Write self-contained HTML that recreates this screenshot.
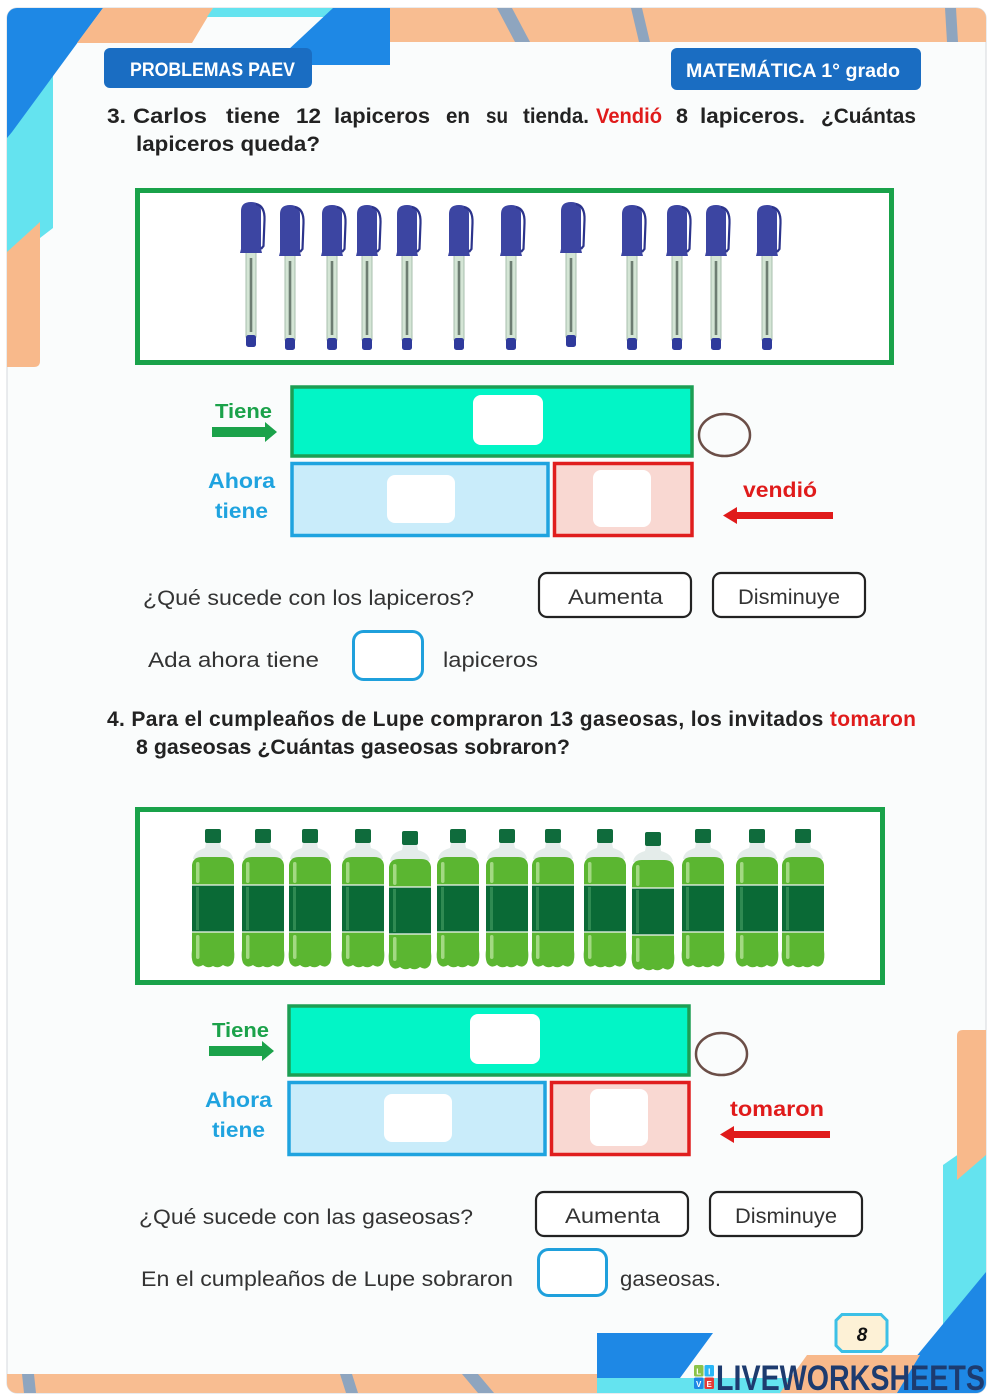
<!DOCTYPE html>
<html><head><meta charset="utf-8"><style>
html,body{margin:0;padding:0;background:#fff;}
svg{display:block;}
text{font-family:"Liberation Sans",Arial,sans-serif;}
.b{font-weight:bold;}
.r{fill:#333;font-size:21px;}
.q{font-weight:bold;font-size:21px;fill:#222;}
</style></head><body>
<svg width="999" height="1400" viewBox="0 0 999 1400" xmlns="http://www.w3.org/2000/svg">
<defs>
<clipPath id="card"><rect x="7" y="8" width="979" height="1385" rx="10"/></clipPath>
<g id="pen">
 <rect x="-5" y="48" width="10" height="87" fill="#d4e5d5" stroke="#a8bfae" stroke-width="1"/>
 <rect x="-1.3" y="56" width="2.6" height="74" fill="#6d7d72"/>
 <path d="M-10 9 Q-10 0 0 0 Q10 0 10 9 L10 47 L11 51 L-11 51 L-10 47 Z" fill="#3c45a2"/>
 <path d="M5 2 Q14 4 13.5 18 L12.5 44 L10 47" stroke="#2c348c" stroke-width="2.2" fill="none"/>
 <rect x="-5" y="133" width="10" height="12" rx="2.5" fill="#2f3a9c"/>
</g>
<g id="bt">
 <rect x="-8" y="0" width="16" height="14" rx="2" fill="#0f6b3c"/>
 <path d="M-7 14 L7 14 L8 19 Q19 22 20 30 L-20 30 Q-19 22 -8 19 Z" fill="#e4ecea"/>
 <path d="M-21 36 Q-20 28 -11 28 L11 28 Q20 28 21 36 L21 56 L-21 56 Z" fill="#5bb631"/>
 <rect x="-21" y="56" width="42" height="47" fill="#0a6a36"/>
 <path d="M-21 103 L21 103 L21 121 Q22 129 20 134 Q16 140 10 136 Q5 140 0 137 Q-5 140 -10 136 Q-16 140 -20 134 Q-22 129 -21 121 Z" fill="#5bb631"/>
 <line x1="-21" y1="56" x2="21" y2="56" stroke="#f2f7f2" stroke-width="1.3"/>
 <line x1="-21" y1="103" x2="21" y2="103" stroke="#f2f7f2" stroke-width="1.3"/>
 <rect x="-17" y="33" width="3.5" height="21" rx="1.7" fill="#a3d983"/>
 <rect x="-17" y="106" width="3.5" height="24" rx="1.7" fill="#a3d983"/>
 <rect x="-17" y="58" width="3" height="43" fill="#2f8a52"/>
</g>
</defs>

<!-- card -->
<rect x="7" y="8" width="979" height="1385" rx="10" fill="#fafcfc" stroke="#dcdfe3" stroke-width="1.2"/>

<g clip-path="url(#card)">
 <path d="M7 100 L53 75 L53 228 L40 238 L7 265 Z" fill="#64e3ef"/>
 <path d="M7 8 L103 8 L12 132 L7 138 Z" fill="#1e88e5"/>
 <path d="M7 252 L40 222 L40 361 Q40 367 34 367 L7 367 Z" fill="#f8b98b"/>
 <path d="M103 8 L213 8 L192 43 L77 43 Z" fill="#f8b98b"/>
 <path d="M213 8 L333 8 L328 17 L207 17 Z" fill="#64e3ef"/>
 <path d="M333 8 L390 8 L390 65 L272 65 Z" fill="#1e88e5"/>
 <rect x="390" y="8" width="600" height="34" fill="#f8bd91"/>
 <path d="M497 8 L512 8 L530 42 L515 42 Z" fill="#8ea5bf"/>
 <path d="M631 8 L642 8 L650 42 L639 42 Z" fill="#8ea5bf"/>
 <path d="M945 8 L956 8 L958 42 L947 42 Z" fill="#8ea5bf"/>

 <path d="M943 1165 L986 1135 L986 1300 L943 1335 Z" fill="#64e3ef"/>
 <path d="M957 1036 Q957 1030 963 1030 L986 1030 L986 1155 L957 1180 Z" fill="#f8b98b"/>
 <path d="M986 1272 L986 1393 L886 1393 Z" fill="#1e88e5"/>

 <rect x="7" y="1374" width="590" height="19" fill="#f8bd91"/>
 <path d="M22 1374 L34 1374 L36 1393 L24 1393 Z" fill="#8ea5bf"/>
 <path d="M340 1374 L352 1374 L358 1393 L346 1393 Z" fill="#8ea5bf"/>
 <path d="M462 1374 L478 1374 L494 1393 L478 1393 Z" fill="#8ea5bf"/>
 <path d="M597 1333 L713 1333 L680 1378 L597 1378 Z" fill="#1e88e5"/>
 <path d="M597 1378 L800 1378 L793 1393 L597 1393 Z" fill="#64e3ef"/>
 <path d="M807 1355 L920 1355 L897 1393 L780 1393 Z" fill="#f8b98b"/>
</g>

<!-- header buttons -->
<rect x="104" y="48" width="208" height="40" rx="6" fill="#1a6dc2"/>
<text x="130" y="76" class="b" font-size="19" fill="#fff" textLength="165" lengthAdjust="spacingAndGlyphs">PROBLEMAS PAEV</text>
<rect x="671" y="48" width="250" height="42" rx="6" fill="#1a6dc2"/>
<text x="686" y="77" class="b" font-size="19" fill="#fff" textLength="214" lengthAdjust="spacingAndGlyphs">MATEMÁTICA 1° grado</text>

<!-- question 3 (word positioned) -->
<text x="107" y="123" class="q" textLength="19" lengthAdjust="spacingAndGlyphs">3.</text>
<text x="133" y="123" class="q" textLength="74" lengthAdjust="spacingAndGlyphs">Carlos</text>
<text x="226" y="123" class="q" textLength="54" lengthAdjust="spacingAndGlyphs">tiene</text>
<text x="296" y="123" class="q" textLength="25" lengthAdjust="spacingAndGlyphs">12</text>
<text x="334" y="123" class="q" textLength="96" lengthAdjust="spacingAndGlyphs">lapiceros</text>
<text x="446" y="123" class="q" textLength="24" lengthAdjust="spacingAndGlyphs">en</text>
<text x="486" y="123" class="q" textLength="22" lengthAdjust="spacingAndGlyphs">su</text>
<text x="523" y="123" class="q" textLength="66" lengthAdjust="spacingAndGlyphs">tienda.</text>
<text x="596" y="123" class="q" textLength="66" lengthAdjust="spacingAndGlyphs" style="fill:#e01b1b">Vendió</text>
<text x="676" y="123" class="q" textLength="12" lengthAdjust="spacingAndGlyphs">8</text>
<text x="700" y="123" class="q" textLength="105" lengthAdjust="spacingAndGlyphs">lapiceros.</text>
<text x="821" y="123" class="q" textLength="95" lengthAdjust="spacingAndGlyphs">¿Cuántas</text>
<text x="136" y="151" class="q" textLength="184" lengthAdjust="spacingAndGlyphs">lapiceros queda?</text>

<!-- pens box -->
<rect x="137.5" y="190.5" width="754" height="172" fill="#fff" stroke="#19a24a" stroke-width="5"/>
<use href="#pen" x="251" y="202"/>
<use href="#pen" x="290" y="205"/>
<use href="#pen" x="332" y="205"/>
<use href="#pen" x="367" y="205"/>
<use href="#pen" x="407" y="205"/>
<use href="#pen" x="459" y="205"/>
<use href="#pen" x="511" y="205"/>
<use href="#pen" x="571" y="202"/>
<use href="#pen" x="632" y="205"/>
<use href="#pen" x="677" y="205"/>
<use href="#pen" x="716" y="205"/>
<use href="#pen" x="767" y="205"/>

<!-- diagram 1 -->
<g id="diag">
 <text x="215" y="418" class="b" font-size="20" fill="#1ba24a" textLength="57" lengthAdjust="spacingAndGlyphs">Tiene</text>
 <path d="M212 427 L265 427 L265 422 L277 432 L265 442 L265 437 L212 437 Z" fill="#1ba24a"/>
 <rect x="292" y="387" width="400" height="69" fill="#02f5c6" stroke="#1c9e54" stroke-width="3.5"/>
 <rect x="473" y="395" width="70" height="50" rx="8" fill="#fff"/>
 <ellipse cx="724.5" cy="435" rx="25.5" ry="21" fill="none" stroke="#6b4e47" stroke-width="2.5"/>
 <rect x="292" y="463.5" width="256" height="72" fill="#c9ecfa" stroke="#1fa3df" stroke-width="3.5"/>
 <rect x="387" y="475" width="68" height="48" rx="8" fill="#fff"/>
 <rect x="554.5" y="463.5" width="137.5" height="72" fill="#f9d8d2" stroke="#e01e1e" stroke-width="3.5"/>
 <rect x="593" y="470" width="58" height="57" rx="8" fill="#fff"/>
 <text x="208" y="488" class="b" font-size="21" fill="#1fa3df" textLength="67" lengthAdjust="spacingAndGlyphs">Ahora</text>
 <text x="215" y="518" class="b" font-size="21" fill="#1fa3df" textLength="53" lengthAdjust="spacingAndGlyphs">tiene</text>
 <path d="M833 512 L737 512 L737 507 L723 515.5 L737 524 L737 519 L833 519 Z" fill="#e01b1b"/>
 <rect x="539" y="573" width="152" height="44" rx="8" fill="#fff" stroke="#222" stroke-width="2.2"/>
 <rect x="713" y="573" width="152" height="44" rx="8" fill="#fff" stroke="#222" stroke-width="2.2"/>
 <text x="568" y="604" class="r" textLength="95" lengthAdjust="spacingAndGlyphs">Aumenta</text>
 <text x="738" y="604" class="r" textLength="102" lengthAdjust="spacingAndGlyphs">Disminuye</text>
</g>
<text x="743" y="497" class="b" font-size="21" fill="#e01b1b" textLength="74" lengthAdjust="spacingAndGlyphs">vendió</text>

<text x="143" y="605" class="r" textLength="331" lengthAdjust="spacingAndGlyphs">¿Qué sucede con los lapiceros?</text>
<text x="148" y="667" class="r" textLength="171" lengthAdjust="spacingAndGlyphs">Ada ahora tiene</text>
<rect x="353.5" y="631.5" width="69" height="48" rx="10" fill="#fff" stroke="#1fa0dc" stroke-width="3"/>
<text x="443" y="667" class="r" textLength="95" lengthAdjust="spacingAndGlyphs">lapiceros</text>

<!-- question 4 -->
<text x="107" y="726" class="b" font-size="21" fill="#222" textLength="809" lengthAdjust="spacing">4. Para el cumpleaños de Lupe compraron 13 gaseosas, los invitados <tspan fill="#e01b1b">tomaron</tspan></text>
<text x="136" y="754" class="b" font-size="21" fill="#222" textLength="434" lengthAdjust="spacingAndGlyphs">8 gaseosas ¿Cuántas gaseosas sobraron?</text>

<!-- bottles box -->
<rect x="137.5" y="809.5" width="745" height="173" fill="#fff" stroke="#19a24a" stroke-width="5"/>
<use href="#bt" x="213" y="829"/>
<use href="#bt" x="263" y="829"/>
<use href="#bt" x="310" y="829"/>
<use href="#bt" x="363" y="829"/>
<use href="#bt" x="410" y="831"/>
<use href="#bt" x="458" y="829"/>
<use href="#bt" x="507" y="829"/>
<use href="#bt" x="553" y="829"/>
<use href="#bt" x="605" y="829"/>
<use href="#bt" x="653" y="832"/>
<use href="#bt" x="703" y="829"/>
<use href="#bt" x="757" y="829"/>
<use href="#bt" x="803" y="829"/>

<!-- diagram 2 -->
<use href="#diag" x="-3" y="619"/>
<text x="730" y="1116" class="b" font-size="21" fill="#e01b1b" textLength="94" lengthAdjust="spacingAndGlyphs">tomaron</text>

<text x="139" y="1224" class="r" textLength="334" lengthAdjust="spacingAndGlyphs">¿Qué sucede con las gaseosas?</text>
<text x="141" y="1286" class="r" textLength="372" lengthAdjust="spacingAndGlyphs">En el cumpleaños de Lupe sobraron</text>
<rect x="538.5" y="1249.5" width="68" height="46" rx="10" fill="#fff" stroke="#1fa0dc" stroke-width="3"/>
<text x="620" y="1286" class="r" textLength="101" lengthAdjust="spacingAndGlyphs">gaseosas.</text>

<!-- page number -->
<path d="M842 1314.5 L881 1314.5 L887 1320.5 L887 1345.5 L881 1351.5 L842 1351.5 L836 1345.5 L836 1320.5 Z" fill="#fdf1d6" stroke="#3cc0e6" stroke-width="3"/>
<text x="862" y="1341" class="b" font-size="19" font-style="italic" fill="#111" text-anchor="middle">8</text>

<!-- liveworksheets logo -->
<rect x="694" y="1365" width="9.5" height="11.5" rx="1.5" fill="#8bc34a"/>
<rect x="704.5" y="1365" width="9.5" height="11.5" rx="1.5" fill="#29b6f6"/>
<rect x="694" y="1377.5" width="9.5" height="11.5" rx="1.5" fill="#1e88e5"/>
<rect x="704.5" y="1377.5" width="9.5" height="11.5" rx="1.5" fill="#e53935"/>
<text x="698.7" y="1374.5" class="b" font-size="8" fill="#fff" text-anchor="middle">L</text>
<text x="709.2" y="1374.5" class="b" font-size="8" fill="#fff" text-anchor="middle">I</text>
<text x="698.7" y="1387" class="b" font-size="8" fill="#fff" text-anchor="middle">V</text>
<text x="709.2" y="1387" class="b" font-size="8" fill="#fff" text-anchor="middle">E</text>
<text x="716" y="1390" class="b" font-size="35" fill="#1d3b6f" textLength="269" lengthAdjust="spacingAndGlyphs">LIVEWORKSHEETS</text>
</svg>
</body></html>
